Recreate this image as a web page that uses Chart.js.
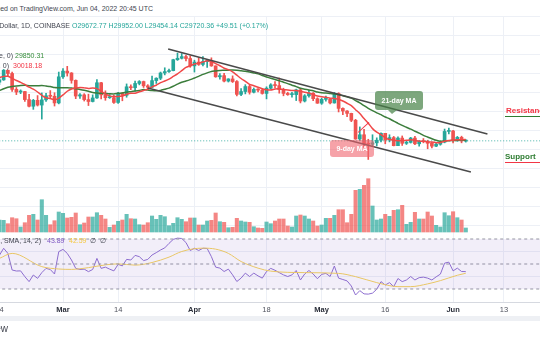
<!DOCTYPE html>
<html>
<head>
<meta charset="utf-8">
<script src="https://cdn.jsdelivr.net/npm/chart.js@4.4.0/dist/chart.umd.min.js"></script>
<style>
  html, body { margin: 0; padding: 0; background: #fff; }
  #wrap { position: relative; width: 540px; height: 340px; overflow: hidden;
          font-family: "Liberation Sans", Arial, sans-serif; }
  canvas { position: absolute; left: 0; }
  #price { top: 16px; }
  #rsi { top: 235px; }
  .t { position: absolute; white-space: nowrap; font-size: 7px; line-height: 9px; }
  .r { text-align: right; }
  .box { position: absolute; color: #fff; font-weight: bold; font-size: 7px;
         border-radius: 3px; display: flex; align-items: center; justify-content: center; }
  .bar { position: absolute; height: 1.5px; }
</style>
</head>
<body>
<div id="wrap">
  <canvas id="price" width="540" height="219"></canvas>
  <canvas id="rsi" width="540" height="105"></canvas>

  <!-- header -->
  <div class="t r" style="top:3.5px; right:387px; color:#434651;">Published on TradingView.com, Jun 04, 2022 20:45 UTC</div>
  <div class="t r" style="top:20.5px; right:470px; color:#434651;">Bitcoin / U.S. Dollar, 1D, COINBASE</div>
  <div class="t" style="top:20.5px; left:72px; color:#26a69a;">O29672.77 H29952.00 L29454.14 C29720.36 +49.51 (+0.17%)</div>

  <!-- MA legend -->
  <div class="t r" style="top:50.5px; right:527px; color:#434651;">MA (21, close, 0)</div>
  <div class="t" style="top:50.5px; left:15px; color:#388e3c;">29850.31</div>
  <div class="t r" style="top:60.5px; right:531px; color:#434651;">MA (9, close, 0)</div>
  <div class="t" style="top:60.5px; left:13px; color:#f23645;">30018.18</div>

  <!-- RSI legend -->
  <div class="t r" style="top:235.5px; right:499px; color:#434651;">RSI (14, SMA, 14, 2)</div>
  <div class="t" style="top:235.5px; left:47px; color:#7e57c2;">43.89</div>
  <div class="t" style="top:235.5px; left:69px; color:#f5c842;">42.59</div>
  <div class="t" style="top:235.5px; left:90px; color:#434651;">∅</div>
  <div class="t" style="top:235.5px; left:100px; color:#434651;">∅</div>

  <!-- annotations -->
  <div class="box" style="left:375px; top:91px; width:48px; height:19px; background:rgba(70,130,70,0.7);">21-day MA</div>
  <div style="position:absolute; left:388px; top:110px; width:0; height:0;
              border-left:4px solid transparent; border-right:5px solid transparent;
              border-top:4px solid rgba(70,130,70,0.7);"></div>
  <div class="box" style="left:330px; top:140px; width:44px; height:17px; background:rgba(240,100,110,0.6);">9-day MA</div>
  <div style="position:absolute; left:358px; top:132px; width:15px; height:1px; background:#f23645;
              transform:rotate(-43deg); transform-origin:left center;"></div>

  <div class="t" style="top:106px; left:506px; font-size:8px; line-height:10px; font-weight:bold; color:#f23645;">Resistance</div>
  <div class="bar" style="top:115.5px; left:505px; width:40px; background:#2e7d32;"></div>
  <div class="t" style="top:152px; left:505px; font-size:8px; line-height:10px; font-weight:bold; color:#2e7d32;">Support</div>
  <div class="bar" style="top:161.5px; left:505px; width:40px; background:#f23645;"></div>

  <div class="t r" style="top:323px; right:532px; font-size:10px; line-height:12px; color:#434651;">TradingView</div>
</div>

<script>
/* BTC/USD daily, Coinbase — Feb 12 … Jun 4 2022 */
const open = [
  42400, 42200, 42050, 42550, 44580, 43900, 40550, 40000, 40100, 38400, 37000, 38250, 37250, 38350, 39200, 39100, 37700,
  43200, 44400, 44000, 42450, 39150, 39400, 38400, 38000, 38750, 41950, 39400, 38800, 38800, 37800, 39700, 39300,
  41100, 40900, 41800, 42200, 41300, 41000, 42400, 42900, 44000, 44300, 44500, 46800, 47100, 47450, 47050,
  45500, 46300, 45800, 46400, 46600, 45500, 43200, 43450, 42300, 42750, 42200, 39500, 40100, 41150, 39950,
  40550, 40400, 39700, 40800, 41500, 41350, 40500, 39700, 39450, 39450, 40450, 38100, 39200, 39750, 38600,
  37650, 38450, 38500, 37700, 39700, 36550, 36000, 35500, 34050, 30100, 31000, 29100, 29000, 29300, 29850,
  31300, 29900, 30400, 28700, 30300, 29200, 29400, 30300, 29100, 29650, 29550, 29200, 28600, 29000, 29450, 31700,
  31800, 29800, 30450, 29672.77
];
const high = [
  42950, 42750, 42850, 44750, 44600, 44200, 40950, 40450, 40150, 39500, 38450, 39250, 39800, 39700, 40300, 39850, 44200,
  44950, 45400, 44100, 42550, 39650, 39650, 39550, 39400, 42600, 42050, 40250, 39450, 39300, 39950, 39900, 41700,
  41500, 42300, 42400, 42300, 41550, 43350, 43000, 44200, 45100, 44800, 46900, 48200, 48100, 47700, 47600,
  46700, 47200, 47450, 46900, 47200, 45500, 43900, 43950, 42800, 43400, 42400, 40700, 41550, 41500, 40850,
  40700, 40600, 41100, 41750, 42200, 42950, 40800, 39950, 39950, 40600, 40800, 39450, 40350, 39900, 38800,
  38700, 39150, 38650, 39900, 39850, 36650, 36100, 35550, 34250, 32650, 32150, 30050, 31000, 30350, 31400,
  31300, 31000, 30650, 30550, 30750, 29650, 30450, 30650, 29800, 30200, 29850, 29400, 29200, 29550, 32200,
  32400, 31950, 30650, 30700, 29952
];
const low = [
  41750, 41900, 41550, 42450, 43300, 40100, 39450, 39650, 38000, 36850, 36350, 37050, 34300, 38000, 38600, 37050, 37500,
  42850, 43350, 41850, 38600, 38650, 38100, 37150, 37900, 38650, 38550, 38250, 38650, 37600, 37600, 38150, 38900,
  40500, 40150, 41500, 40950, 40500, 40900, 41800, 42600, 43600, 44100, 44450, 46650, 46950, 46550, 45200,
  44200, 45600, 45500, 45150, 45400, 43100, 42700, 42100, 42100, 42000, 39200, 39250, 39600, 39550, 39800,
  40000, 39550, 38550, 40600, 40850, 39750, 39200, 39300, 38900, 38200, 37700, 37900, 38900, 38200, 37600,
  37400, 38050, 37500, 37650, 35800, 35250, 34800, 33750, 30050, 29750, 27800, 25800, 28700, 28650, 29500,
  29100, 29500, 28650, 28700, 28750, 28950, 29250, 28900, 28600, 29300, 28050, 28250, 28500, 28800, 29300,
  31200, 29300, 29600, 29300, 29454.14
];
const close = [
  42200, 42050, 42550, 44580, 43900, 40550, 40000, 40100, 38400, 37000, 38250, 37250, 38350, 39200, 39100, 37700, 43200,
  44400, 44000, 42450, 39150, 39400, 38400, 38000, 38750, 41950, 39400, 38800, 38800, 37800, 39700, 39300, 41100,
  40900, 41800, 42200, 41300, 41000, 42400, 42900, 44000, 44300, 44500, 46800, 47100, 47450, 47050, 45500,
  46300, 45800, 46400, 46600, 45500, 43200, 43450, 42300, 42750, 42200, 39500, 40100, 41150, 39950, 40550,
  40400, 39700, 40800, 41500, 41350, 40500, 39700, 39450, 39450, 40450, 38100, 39200, 39750, 38600, 37650,
  38450, 38500, 37700, 39700, 36550, 36000, 35500, 34050, 30100, 31000, 29100, 29000, 29300, 29850, 31300,
  29900, 30400, 28700, 30300, 29200, 29400, 30300, 29100, 29650, 29550, 29200, 28600, 29000, 29450, 31700, 31800,
  29800, 30450, 29672.77, 29720.36
];
/* volume in BTC */
const volume = [
  6000, 5000, 12000, 11700, 8300, 14300, 13300, 5000, 9300, 16700, 17700, 12000, 32300, 16700, 7300, 11300, 20000,
  18700, 14000, 14700, 19000, 7300, 9000, 15000, 15000, 19300, 16700, 13000, 4700, 7000, 10700, 12000, 17700,
  13300, 13000, 7300, 7000, 9300, 16000, 12700, 16700, 15300, 6300, 8700, 14300, 12700, 10300, 14000,
  14000, 7000, 7000, 11000, 11700, 19000, 10300, 9700, 4300, 4700, 13700, 11000, 10000, 9700, 5300,
  4000, 3700, 10000, 8300, 11000, 13000, 13000, 6000, 5000, 16000, 17000, 16000, 13000, 11000, 6000,
  7000, 13700, 13700, 16700, 22300, 22300, 9300, 17700, 41700, 42700, 46700, 53300, 26000, 12000, 13000,
  17700, 15700, 21700, 22300, 26700, 7700, 9700, 19700, 13000, 13000, 20000, 16000, 6700, 5000, 19300, 16300,
  20300, 14300, 12000, 4000
];
/* moving averages, Feb 14 … Jun 4 */
const ma9 = [
  43050, 43290, 43300, 42900, 42420, 42040, 41590, 41010, 40590, 40000, 39310, 38790, 38630, 38370, 38720,
  39380, 40160, 40630, 40840, 40960, 40870, 40740, 40860, 40720, 40170, 39590, 39180, 39030, 39070, 39170,
  39510, 39750, 39730, 40040, 40320, 40570, 41080, 41430, 41960, 42310, 42710, 43270, 43810, 44490, 45170,
  45510, 45890, 46090, 46320, 46560, 46410, 45980, 45530, 45010, 44700, 44240, 43540, 42840, 42240, 41620,
  41330, 40990, 40700, 40480, 40410, 40610, 40660, 40490, 40440, 40320, 40320, 40140, 39970, 39770, 39470,
  39150, 39010, 38910, 38710, 38630, 38460, 38100, 37630, 37120, 36280, 35460, 34410, 33440, 32290, 31540,
  31020, 30400, 29990, 29840, 29760, 29770, 29820, 29930, 29840, 29660, 29620, 29490, 29480, 29330, 29360,
  29620, 29780, 29860, 29950, 29960, 30018.18
];
const ma21 = [
  40310, 40680, 41010, 41170, 41280, 41370, 41400, 41330, 41300, 41320, 41370, 41260, 41150, 40930, 40890,
  40910, 40890, 40840, 40680, 40550, 40380, 40160, 39880, 39790, 39740, 39680, 39620, 39590, 39720, 39770,
  39950, 40070, 40200, 40340, 40510, 40410, 40310, 40260, 40340, 40580, 40820, 41220, 41660, 42070, 42310,
  42600, 42960, 43300, 43700, 44030, 44330, 44430, 44550, 44570, 44600, 44640, 44570, 44460, 44380, 44190,
  44010, 43810, 43470, 43170, 42890, 42620, 42380, 42070, 41760, 41430, 41140, 40790, 40600, 40420, 40250,
  40000, 39820, 39780, 39660, 39590, 39430, 39210, 38980, 38710, 38200, 37700, 37120, 36570, 36080, 35620,
  35230, 34730, 34360, 33860, 33410, 32960, 32570, 32180, 31740, 31350, 30870, 30520, 30170, 29860, 29640,
  29710, 29750, 29790, 29850, 29870, 29850.31
];
/* RSI(14), Feb 14 … Jun 4 */
const rsi = [
  57.0, 62.6, 58.5, 45.2, 44.4, 44.5, 39.9, 35.9, 41.2, 38.5, 43.1, 46.5, 45.6, 42.0, 59.9,
  61.7, 58.5, 53.2, 46.5, 45.6, 45.9, 43.9, 45.6, 54.5, 46.5, 47.5, 45.9, 44.5, 49.7, 48.5,
  53.7, 53.2, 56.9, 55.9, 52.7, 53.7, 57.2, 59.1, 61.2, 62.9, 66.5, 69.7, 70.7, 70.4, 67.2,
  60.8, 62.6, 60.8, 62.6, 62.4, 55.9, 47.5, 46.7, 44.0, 45.9, 41.3, 36.0, 38.7, 42.7, 40.0,
  42.7, 40.5, 38.7, 44.0, 46.5, 45.0, 43.1, 41.3, 40.0, 41.3, 44.8, 37.2, 42.0, 44.8, 42.0,
  38.2, 41.7, 42.5, 40.0, 48.4, 38.7, 37.6, 36.5, 32.4, 25.2, 28.7, 26.1, 25.9, 26.7, 29.8,
  35.9, 33.2, 35.1, 31.9, 38.4, 35.9, 37.2, 40.0, 37.2, 39.1, 39.5, 38.7, 37.2, 39.7, 41.9,
  50.7, 51.5, 44.5, 46.7, 44.0, 43.89
];
/* RSI-based SMA, read at these days (days after Feb 14) */
const rsiMaDay = [0, 3, 10, 14, 17, 21, 25, 28, 32, 36, 40, 43, 48, 51, 54, 57, 61, 64, 72, 80, 84, 89, 94, 97, 101, 104, 108, 110];
const rsiMaVal = [54.5, 58.5, 47.9, 46.0, 45.7, 47.1, 49.3, 50.1, 49.1, 51.2, 55.5, 60.0, 62.7, 61.9, 58.5, 52.0,
                  46.7, 44.3, 43.1, 42.5, 39.9, 35.1, 31.9, 31.9, 34.1, 36.7, 41.0, 42.59];

/* drawn channel (day, price) */
const trendUpperDay = [39.8, 115.1], trendUpperPrice = [49050, 31160];
const trendLowerDay = [35.0, 111.2], trendLowerPrice = [40840, 23160];

const tickDays   = [0, 15, 28, 46, 63, 76, 91, 107, 119];
const tickLabels = ['14', 'Mar', '14', 'Apr', '18', 'May', '16', 'Jun', '13'];
const lastClose = 29720.36;

/* ── palette ─────────────────────────────────────────── */
const UP = '#26a69a', DN = '#ef5350';
const UP_V = 'rgba(38,166,154,0.7)', DN_V = 'rgba(239,83,80,0.7)';
const GRID = '#edf0f6';
const X_MIN = 0.14, X_MAX = 127.5;

const dayNo = close.map((_, i) => i - 2);        // Feb 12 = -2, Feb 14 = 0
const isUp = close.map((c, i) => c >= open[i]);
const pts = (xs, ys) => xs.map((x, i) => ({ x, y: ys[i] }));

const xScale = {
  type: 'linear', min: X_MIN, max: X_MAX, offset: false,
  grid: { color: GRID, drawTicks: false, offset: false },
  border: { display: false },
  ticks: { display: false },
  afterBuildTicks: s => { s.ticks = tickDays.map(v => ({ value: v })); },
};

new Chart(document.getElementById('price'), {
  type: 'bar',
  data: {
    datasets: [
      { type: 'bar', yAxisID: 'yv', order: 10, grouped: false, barThickness: 3.4,
        data: pts(dayNo, volume), backgroundColor: isUp.map(u => u ? UP_V : DN_V) },
      { type: 'bar', yAxisID: 'y', order: 6, grouped: false, barThickness: 1,
        data: dayNo.map((d, i) => ({ x: d, y: [low[i], high[i]] })),
        backgroundColor: isUp.map(u => u ? UP : DN) },
      { type: 'bar', yAxisID: 'y', order: 5, grouped: false, barThickness: 3, minBarLength: 1,
        data: dayNo.map((d, i) => ({ x: d, y: [open[i], close[i]] })),
        backgroundColor: isUp.map(u => u ? UP : DN) },
      { type: 'line', yAxisID: 'y', order: 4, data: [{ x: -5, y: lastClose }, { x: 140, y: lastClose }],
        borderColor: 'rgba(38,166,154,0.85)', borderWidth: 1, borderDash: [1, 2], pointRadius: 0 },
      { type: 'line', yAxisID: 'y', order: 3, data: pts(ma21.map((_, i) => i), ma21),
        borderColor: '#3b7d3b', borderWidth: 1.5, pointRadius: 0, tension: 0.2 },
      { type: 'line', yAxisID: 'y', order: 2, data: pts(ma9.map((_, i) => i), ma9),
        borderColor: '#f04848', borderWidth: 1.5, pointRadius: 0, tension: 0.2 },
      { type: 'line', yAxisID: 'y', order: 1, data: pts(trendUpperDay, trendUpperPrice),
        borderColor: '#4a4a4a', borderWidth: 1.5, pointRadius: 0 },
      { type: 'line', yAxisID: 'y', order: 1, data: pts(trendLowerDay, trendLowerPrice),
        borderColor: '#4a4a4a', borderWidth: 1.5, pointRadius: 0 },
    ],
  },
  options: {
    responsive: false, animation: false, devicePixelRatio: 1,
    layout: { padding: 0 },
    plugins: { legend: { display: false }, tooltip: { enabled: false } },
    scales: {
      x: xScale,
      y: {
        type: 'linear', min: 9897, max: 56000,
        grid: { color: GRID, drawTicks: false },
        border: { display: false }, ticks: { display: false },
        afterBuildTicks: s => {
          const t = [];
          for (let v = 12000; v <= 56000; v += 4000) t.push({ value: v });
          s.ticks = t;
        },
      },
      yv: { type: 'linear', display: false, min: -3000, max: 216000 },
    },
  },
});

/* ── RSI pane + time axis labels ─────────────────────── */
const timeAxis = {
  id: 'timeAxis',
  afterDraw(chart) {
    const { ctx, chartArea, scales } = chart;
    ctx.save();
    ctx.fillStyle = '#d6d9e0';
    ctx.fillRect(0, chartArea.bottom, chart.width, 1);
    ctx.fillStyle = '#eef0f4';
    ctx.fillRect(0, chartArea.bottom + 14, chart.width, 5);
    ctx.textAlign = 'center';
    ctx.textBaseline = 'middle';
    tickDays.forEach((d, i) => {
      const lbl = tickLabels[i];
      const bold = isNaN(Number(lbl));
      ctx.font = (bold ? 'bold ' : '') + '7.5px "Liberation Sans", Arial, sans-serif';
      ctx.fillStyle = bold ? '#2a2e39' : '#50535e';
      ctx.fillText(lbl, scales.x.getPixelForValue(d), chartArea.bottom + 8);
    });
    ctx.restore();
  },
};

const flat = v => [{ x: -5, y: v }, { x: 140, y: v }];

new Chart(document.getElementById('rsi'), {
  type: 'line',
  data: {
    datasets: [
      { data: flat(70), fill: { value: 30 }, backgroundColor: 'rgba(126,87,194,0.1)',
        borderWidth: 0, pointRadius: 0 },
      { data: flat(70), borderColor: '#9598a1', borderWidth: 1, borderDash: [3, 3], pointRadius: 0 },
      { data: flat(50), borderColor: '#9598a1', borderWidth: 1, borderDash: [3, 3], pointRadius: 0 },
      { data: flat(30), borderColor: '#9598a1', borderWidth: 1, borderDash: [3, 3], pointRadius: 0 },
      { data: pts(rsiMaDay, rsiMaVal), borderColor: '#f5d35b', borderWidth: 1, pointRadius: 0,
        cubicInterpolationMode: 'monotone' },
      { data: pts(rsi.map((_, i) => i), rsi), borderColor: '#8e6fd0', borderWidth: 1, pointRadius: 0 },
    ],
  },
  options: {
    responsive: false, animation: false, devicePixelRatio: 1,
    layout: { padding: { top: 0, left: 0, right: 0, bottom: 38 } },
    plugins: { legend: { display: false }, tooltip: { enabled: false } },
    scales: {
      x: xScale,
      y: {
        type: 'linear', min: 19.6, max: 73.2,
        grid: { color: GRID, drawTicks: false },
        border: { display: false }, ticks: { display: false },
        afterBuildTicks: s => { s.ticks = [{ value: 40 }, { value: 60 }]; },
      },
    },
  },
  plugins: [timeAxis],
});
</script>
</body>
</html>
